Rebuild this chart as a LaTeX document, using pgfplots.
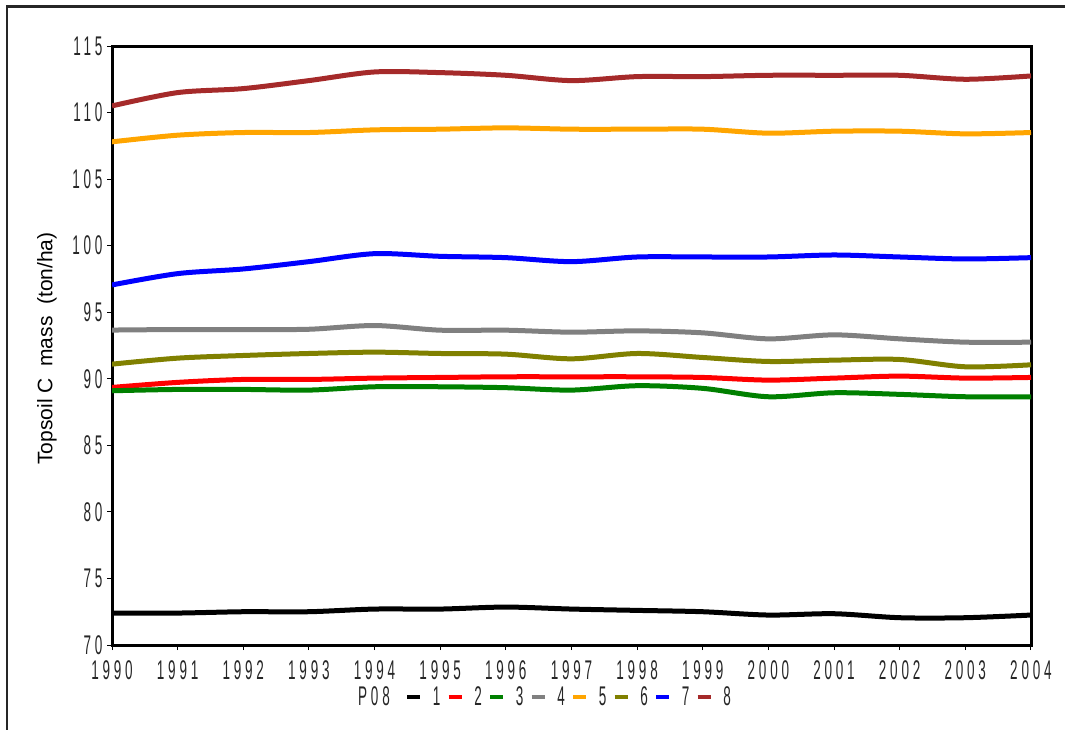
\documentclass[border=0pt]{standalone}
\usepackage{pgfplots}
\usepackage{pgfplotstable}
\pgfplotsset{compat=1.18}
\usepackage{fontspec}
\setmainfont{Liberation Sans}
\newfontfamily\condfont[FakeStretch=0.5, LetterSpace=14]{Liberation Sans}
\definecolor{cBrown}{RGB}{165,42,42}
\definecolor{cOrange}{RGB}{255,165,0}
\definecolor{cBlue}{RGB}{0,0,255}
\definecolor{cGray}{RGB}{128,128,128}
\definecolor{cOlive}{RGB}{128,128,0}
\definecolor{cRed}{RGB}{255,0,0}
\definecolor{cGreen}{RGB}{0,128,0}
\pgfplotstableread{
year s1 s2 s3 s4 s5 s6 s7 s8
1990 72.40 89.35 89.10 93.66 107.80 91.10 97.05 110.50
1991 72.40 89.73 89.20 93.70 108.30 91.55 97.90 111.50
1992 72.50 89.95 89.20 93.70 108.50 91.75 98.25 111.80
1993 72.50 89.95 89.15 93.72 108.50 91.90 98.80 112.40
1994 72.70 90.05 89.40 94.00 108.70 92.00 99.40 113.05
1995 72.70 90.10 89.40 93.65 108.75 91.90 99.20 113.00
1996 72.85 90.15 89.33 93.65 108.85 91.85 99.10 112.80
1997 72.70 90.15 89.15 93.50 108.75 91.50 98.80 112.40
1998 72.60 90.15 89.48 93.60 108.75 91.90 99.15 112.70
1999 72.50 90.10 89.28 93.45 108.75 91.60 99.15 112.70
2000 72.25 89.90 88.65 93.00 108.45 91.30 99.15 112.80
2001 72.35 90.05 88.95 93.30 108.60 91.40 99.30 112.80
2002 72.05 90.20 88.83 93.00 108.60 91.45 99.15 112.80
2003 72.05 90.05 88.65 92.75 108.40 90.90 99.00 112.50
2004 72.25 90.10 88.65 92.75 108.50 91.05 99.10 112.75
}\datatable
\begin{document}
\begin{tikzpicture}[x=1pt,y=1pt]
\useasboundingbox (0,0) rectangle (1065,729);
\draw[line width=2.5pt, color=black!85] (7,-20) -- (7,722.5) -- (1090,722.5);
\begin{axis}[
  at={(112pt,84pt)}, anchor=south west,
  scale only axis, width=919pt, height=599pt,
  xmin=1990, xmax=2004, ymin=70, ymax=115,
  xtick={1990,...,2004}, ytick={70,75,...,115},
  tick align=outside, major tick length=5pt,
  xtick pos=bottom, ytick pos=left,
  axis line style={line width=3pt},
  tick style={line width=1pt, black},
  /pgf/number format/1000 sep={},
  /pgf/number format/assume math mode=true,
  ticklabel style={font=\condfont\fontsize{27}{27}\selectfont, text=black!85},
  xticklabel style={yshift=-7pt},
  yticklabel style={xshift=-1pt},
  every axis y label/.style={at={(axis description cs:-0.0707,0.495)}, rotate=90, anchor=center},
  ylabel={\fontsize{21}{21}\selectfont Topsoil C\ \ mass\ \ (ton/ha)},
  legend columns=-1,
  legend style={draw=none, fill=none, at={(0.466,-0.087)}, anchor=center,
    font=\condfont\fontsize{27}{27}\selectfont, text=black!85,
    /tikz/every even column/.style={column sep=4pt},
    /tikz/every odd column/.style={column sep=8.5pt}},
  legend image code/.code={\draw[line width=4.5pt] (0pt,0pt) -- (13pt,0pt);},
]
\addlegendimage{empty legend}
\addlegendentry{P08\rule{9pt}{0pt}}
\addplot[black, line width=5pt, smooth] table[x=year,y=s1]{\datatable};
\addlegendentry{1}
\addplot[cRed, line width=5pt, smooth] table[x=year,y=s2]{\datatable};
\addlegendentry{2}
\addplot[cGreen, line width=5pt, smooth] table[x=year,y=s3]{\datatable};
\addlegendentry{3}
\addplot[cGray, line width=5pt, smooth] table[x=year,y=s4]{\datatable};
\addlegendentry{4}
\addplot[cOrange, line width=5pt, smooth] table[x=year,y=s5]{\datatable};
\addlegendentry{5}
\addplot[cOlive, line width=5pt, smooth] table[x=year,y=s6]{\datatable};
\addlegendentry{6}
\addplot[cBlue, line width=5pt, smooth] table[x=year,y=s7]{\datatable};
\addlegendentry{7}
\addplot[cBrown, line width=5pt, smooth] table[x=year,y=s8]{\datatable};
\addlegendentry{8}
\end{axis}
\end{tikzpicture}
\end{document}
